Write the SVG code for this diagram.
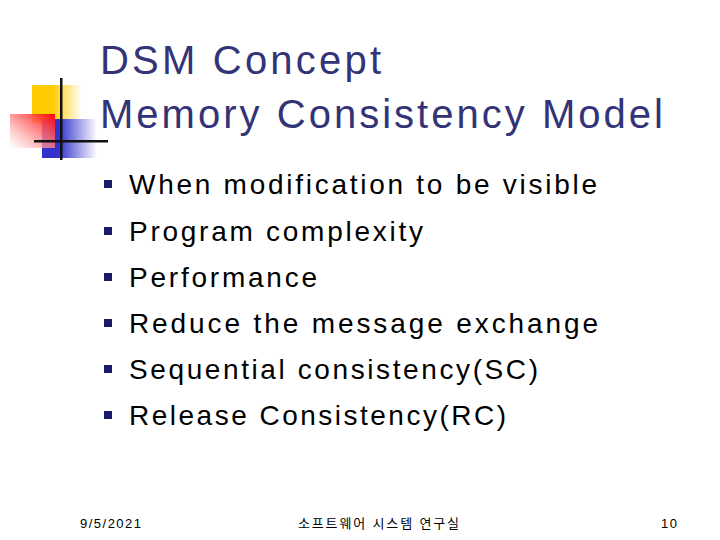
<svg xmlns="http://www.w3.org/2000/svg" width="720" height="540" viewBox="0 0 720 540">
<defs>
<linearGradient id="gy" x1="0" x2="1" y1="0" y2="0"><stop offset="0.4" stop-color="#ffcc00"/><stop offset="1" stop-color="#ffffff"/></linearGradient>
<linearGradient id="gr" x1="1" x2="0" y1="0" y2="1"><stop offset="0" stop-color="#ff0000"/><stop offset="1" stop-color="#ffffff" stop-opacity="0.6"/></linearGradient>
<linearGradient id="gb" x1="0" x2="1" y1="0" y2="0"><stop offset="0.3" stop-color="#3333cc"/><stop offset="1" stop-color="#ffffff"/></linearGradient>
<style>
.t{font-family:"Liberation Sans","Noto Sans CJK KR",sans-serif;fill:#333377;font-size:40px}
.b{font-family:"Liberation Sans","Noto Sans CJK KR",sans-serif;fill:#000;font-size:28px}
.f{font-family:"Liberation Sans","Noto Sans CJK KR",sans-serif;fill:#000;font-size:13px}
.bl{fill:#1a1a66}
</style>
</defs>
<rect width="720" height="540" fill="#fff"/>
<g id="logo">
<rect x="32" y="85" width="50" height="38" fill="url(#gy)"/>
<rect x="42" y="119" width="55" height="39" fill="url(#gb)"/>
<rect x="10" y="114" width="45" height="34" fill="url(#gr)"/>
<rect x="60" y="78" width="2.5" height="82" fill="#111"/>
<rect x="34" y="140" width="74" height="2.5" fill="#111"/>
</g>
<g id="title">
<text class="t" x="100" y="74" textLength="281" lengthAdjust="spacing">DSM Concept</text>
<text class="t" x="100" y="128" textLength="563" lengthAdjust="spacing">Memory Consistency Model</text>
</g>
<g id="bullets">
<rect class="bl" x="104" y="180" width="8" height="8"/><text class="b" x="129" y="194" textLength="468" lengthAdjust="spacing">When modification to be visible</text>
<rect class="bl" x="104" y="227" width="8" height="8"/><text class="b" x="129" y="241" textLength="294" lengthAdjust="spacing">Program complexity</text>
<rect class="bl" x="104" y="273" width="8" height="8"/><text class="b" x="129" y="287" textLength="188" lengthAdjust="spacing">Performance</text>
<rect class="bl" x="104" y="319" width="8" height="8"/><text class="b" x="129" y="333" textLength="469" lengthAdjust="spacing">Reduce the message exchange</text>
<rect class="bl" x="104" y="365" width="8" height="8"/><text class="b" x="129" y="379" textLength="409" lengthAdjust="spacing">Sequential consistency(SC)</text>
<rect class="bl" x="104" y="411" width="8" height="8"/><text class="b" x="129" y="425" textLength="377" lengthAdjust="spacing">Release Consistency(RC)</text>
</g>
<g id="footer">
<text class="f" x="80" y="528" textLength="61" lengthAdjust="spacing">9/5/2021</text>
<text class="f" x="298" y="528" textLength="161" lengthAdjust="spacing">소프트웨어 시스템 연구실</text>
<text class="f" x="661" y="528" textLength="16" lengthAdjust="spacing">10</text>
</g>
</svg>
